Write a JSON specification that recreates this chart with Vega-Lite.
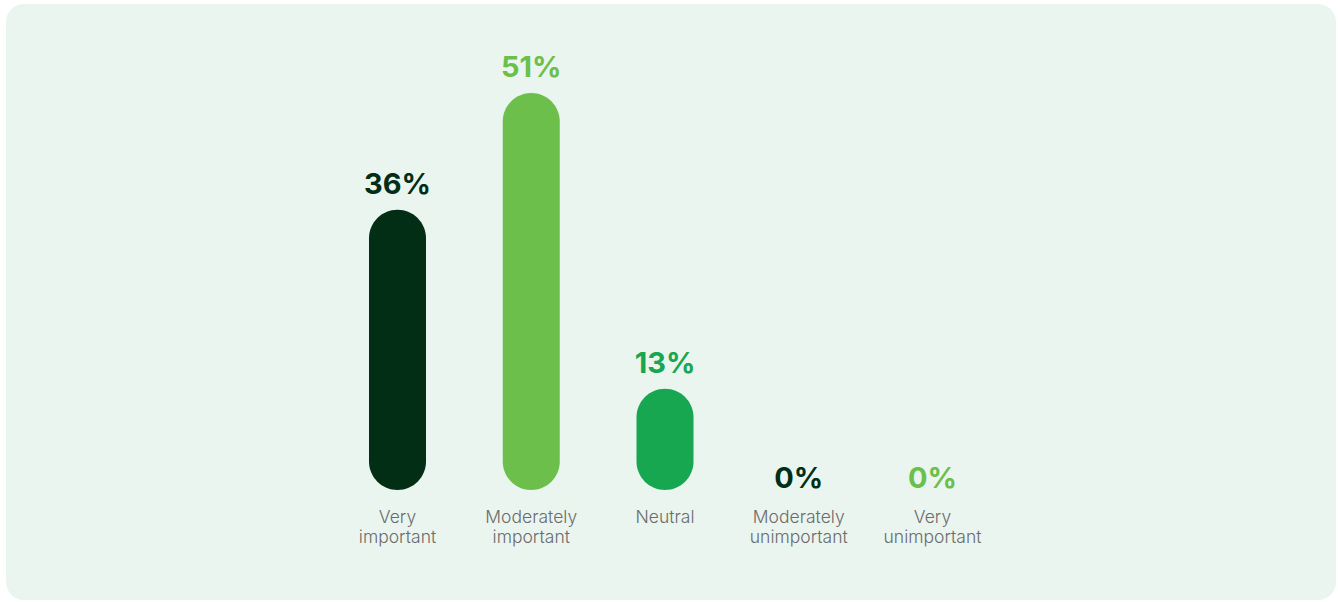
{
  "$schema": "https://vega.github.io/schema/vega-lite/v6.json",
  "width": 1330,
  "height": 596,
  "autosize": {"type": "none"},
  "padding": {"left": 6, "top": 4, "right": 2, "bottom": 2},
  "background": "#ffffff",
  "config": {"view": {"fill": "#EAF5EF", "stroke": null, "cornerRadius": 18}},
  "data": {"values": [
    {"category": "Very important", "value": 36, "label": "36%"},
    {"category": "Moderately important", "value": 51, "label": "51%"},
    {"category": "Neutral", "value": 13, "label": "13%"},
    {"category": "Moderately unimportant", "value": 0, "label": "0%"},
    {"category": "Very unimportant", "value": 0, "label": "0%"}
  ]},
  "encoding": {
    "x": {
      "field": "category", "type": "nominal", "sort": null,
      "scale": {"range": [363, 955], "paddingInner": 0.5738, "paddingOuter": 0},
      "axis": {
        "title": null, "domain": false, "ticks": false, "grid": false,
        "labelAngle": 0, "labelExpr": "split(datum.label, ' ')",
        "labelFont": "Inter", "labelFontSize": 17.5, "labelFontWeight": 300, "labelColor": "#6b6b6b",
        "labelLineHeight": 20, "labelBaseline": "top", "labelPadding": 0,
        "labelOverlap": false, "labelBound": false, "offset": -92
      }
    },
    "y": {
      "field": "value", "type": "quantitative",
      "scale": {"domain": [-14.13, 62.43], "zero": false, "nice": false},
      "axis": null
    },
    "color": {
      "field": "category", "type": "nominal",
      "scale": {
        "domain": ["Very important", "Moderately important", "Neutral", "Moderately unimportant", "Very unimportant"],
        "range": ["#012e14", "#6cbf4b", "#17a750", "#012e14", "#6cbf4b"]
      },
      "legend": null
    }
  },
  "layer": [
    {
      "transform": [{"filter": "datum.value > 0"}],
      "mark": {"type": "bar", "cornerRadius": 28.5, "width": 57},
      "encoding": {"y2": {"datum": 0}}
    },
    {
      "transform": [{"filter": "datum.value > 0"}],
      "mark": {"type": "text", "font": "Inter", "fontSize": 29, "fontWeight": "bold", "baseline": "alphabetic", "dy": -16},
      "encoding": {"text": {"field": "label"}}
    },
    {
      "transform": [{"filter": "datum.value == 0"}],
      "mark": {"type": "text", "font": "Inter", "fontSize": 29, "fontWeight": "bold", "baseline": "alphabetic", "dy": -2},
      "encoding": {"text": {"field": "label"}}
    }
  ]
}
